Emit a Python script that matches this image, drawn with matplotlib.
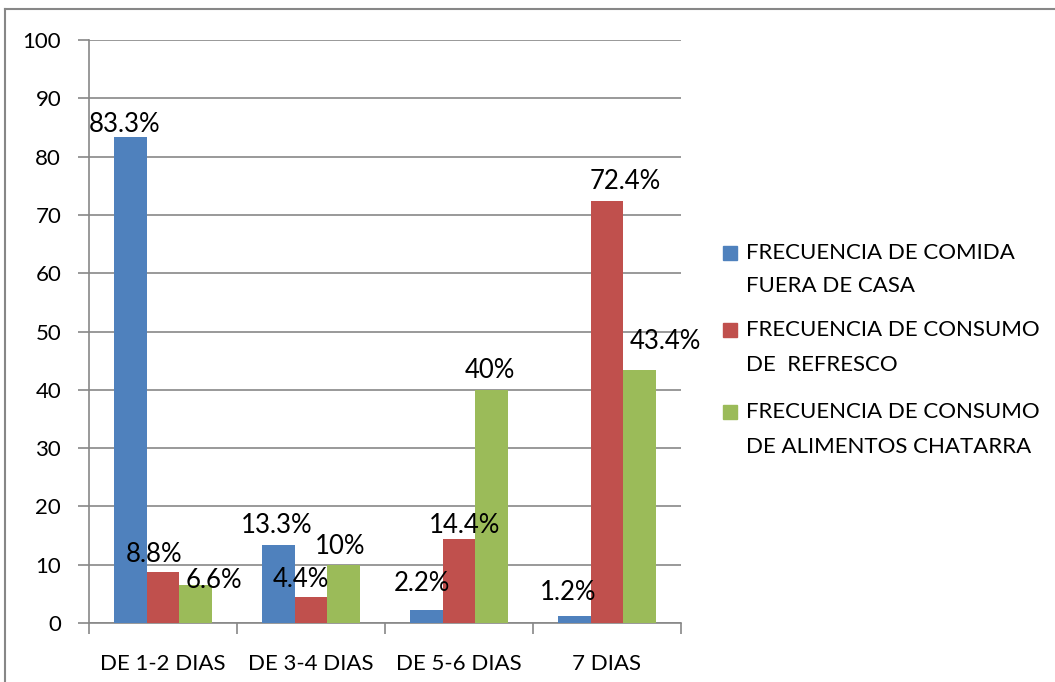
import numpy as np
import matplotlib.pyplot as plt
from matplotlib.lines import Line2D
from matplotlib.patches import Rectangle

plt.rcParams['font.family'] = ['Lato', 'DejaVu Sans']

categories = ['DE 1-2 DIAS', 'DE 3-4 DIAS', 'DE 5-6 DIAS', '7 DIAS']
comida_fuera = [83.3, 13.3, 2.2, 1.2]
refresco = [8.8, 4.4, 14.4, 72.4]
chatarra = [6.6, 10, 40, 43.4]
value_labels = [['83.3%', '13.3%', '2.2%', '1.2%'],
                ['8.8%', '4.4%', '14.4%', '72.4%'],
                ['6.6%', '10%', '40%', '43.4%']]
series_names = [['FRECUENCIA DE COMIDA', 'FUERA DE CASA'],
                ['FRECUENCIA DE CONSUMO', 'DE  REFRESCO'],
                ['FRECUENCIA DE CONSUMO', 'DE ALIMENTOS CHATARRA']]
colors = ['#4F81BD', '#C0504D', '#9BBB59']

# hand-placed label nudges (pixels from the top centre of each bar)
label_nudge = [[(-6, 5), (-1, 12), (-4, 19), (-6, 16)],
               [(-9, 10), (-10, 10), (6, 6), (18, 12)],
               [(18, -3), (-4, 11), (-2, 12), (26, 21)]]

W, H = 1055, 682
fig = plt.figure(figsize=(W / 100, H / 100), dpi=100)
ax = fig.add_axes([89 / W, 1 - 623 / H, (681 - 89) / W, (623 - 40) / H])

grid_col = '#878787'
x = np.arange(len(categories))
width = 0.222
series = [comida_fuera, refresco, chatarra]
for i, vals in enumerate(series):
    pos = x + (i - 1) * width
    ax.bar(pos, vals, width, color=colors[i], zorder=3)
    for j, v in enumerate(vals):
        dx, dy = label_nudge[i][j]
        ax.annotate(value_labels[i][j], (pos[j], v), xytext=(dx, dy),
                    textcoords='offset pixels', ha='center', va='baseline',
                    fontsize=18.5, color='black', zorder=4)

ax.set_xlim(-0.5, len(categories) - 0.5)
ax.set_ylim(0, 100)
ax.set_yticks(range(0, 101, 10))
ax.yaxis.grid(True, color=grid_col, linewidth=1.2, zorder=0)
ax.set_xticks(x)
ax.set_xticklabels(categories, fontsize=16)
ax.set_xticks(np.arange(-0.5, len(categories), 1), minor=True)
ax.tick_params(axis='x', which='major', length=0, pad=22)
ax.tick_params(axis='x', which='minor', length=8, color=grid_col, width=1.2)
ax.tick_params(axis='y', length=8, color=grid_col, width=1.2, labelsize=16, pad=12)
for side in ['top', 'right']:
    ax.spines[side].set_visible(False)
for side in ['left', 'bottom']:
    ax.spines[side].set_color(grid_col)
    ax.spines[side].set_linewidth(1.2)

# legend, square aligned with the first line of each entry
line_y = [(253, 286), (330, 365), (412, 447)]
for i, (names, (y1, y2)) in enumerate(zip(series_names, line_y)):
    fig.patches.append(Rectangle((723 / W, 1 - (y1 + 7) / H), 14 / W, 14 / H,
                                 transform=fig.transFigure, color=colors[i]))
    fig.text(746 / W, 1 - y1 / H, names[0], fontsize=16, va='center')
    fig.text(746 / W, 1 - y2 / H, names[1], fontsize=16, va='center')

# outer chart frame (top and left edges)
fig.add_artist(Line2D([5 / W, 5 / W], [0, 1 - 9 / H], transform=fig.transFigure,
                      color=grid_col, linewidth=1.5))
fig.add_artist(Line2D([5 / W, 1], [1 - 9 / H, 1 - 9 / H], transform=fig.transFigure,
                      color=grid_col, linewidth=1.5))

fig.savefig('out.png', dpi=100)
